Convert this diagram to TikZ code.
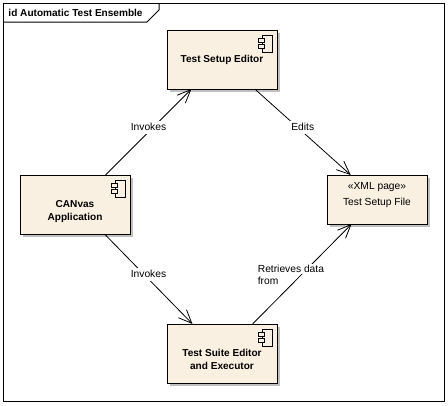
\documentclass[tikz,border=0pt]{standalone}
\usepackage{fontspec}
\setmainfont{Liberation Sans}
\usetikzlibrary{arrows.meta,shadows}
\definecolor{boxfill}{HTML}{F9F0E1}
\definecolor{boxshade}{HTML}{C0C0C0}
\setlength{\fboxsep}{1pt}
\begin{document}
\begin{tikzpicture}[x=0.75pt, y=-0.75pt, line width=0.75pt,
    every node/.style = {font=\fontsize{7.7}{9.75}\selectfont},
    heavy/.style = {font=\fontsize{7.55}{9.75}\selectfont\bfseries},
    box/.style = {draw, fill=boxfill, outer sep=0pt, inner sep=0pt, minimum width=82.5pt, align=center,
        drop shadow={shadow xshift=2.25pt, shadow yshift=-2.25pt, fill=boxshade, opacity=1}},
    comp/.style = {box, heavy, text height=24pt, text depth=20.25pt},
    comptwo/.style = {box, heavy, text height=33.75pt, text depth=10.5pt},
    page/.style = {box, minimum width=75pt, text height=22.5pt, text depth=14.25pt},
    flow/.style = {line width=0.6pt, -{Straight Barb[length=10pt, width=8.5pt]}},
    tag/.style = {fill=white, inner xsep=1pt, inner ysep=0.75pt, text height=6.2pt, text depth=2pt}]
    \useasboundingbox (0,0) rectangle (448,405);

    % Cornice con la linguetta
    \draw (3.5,3.5) rectangle (444,401);
    \draw (3.5,22) -- (147,22) -- (159,10) -- (159,3.5);
    \node[heavy, anchor=west, inner sep=0pt] (title) at (8,12.5) {id Automatic Test Ensemble};

    % Blocchi
    \node[comp] (editor) at (222,59.5) {Test Setup Editor};
    \node[comptwo] (canvas) at (75,204.5) {CANvas\\Application};
    \node[comptwo] (suite) at (222,353.5) {Test Suite Editor\\and Executor};
    \node[page] (file) at (377,199.5) {«XML page»\\[2.25pt]Test Setup File};

    \foreach \n in {editor,canvas,suite} {
        \draw ([shift={(-15,5)}]\n.north east) rectangle ++(10,17);
        \draw[fill=boxfill] ([shift={(-19,8)}]\n.north east) rectangle ++(6,4);
        \draw[fill=boxfill] ([shift={(-19,14)}]\n.north east) rectangle ++(6,4);
    }

    % Collegamenti
    \draw[flow] (canvas.44) to node[tag, yshift=3.4pt] (invup) {Invokes} (editor.224);
    \draw[flow] (canvas.-45) to node[tag, yshift=3.4pt] (invdown) {Invokes} (suite.135);
    \draw[flow] (editor.-42) to node[tag, yshift=3.4pt] (edits) {Edits} (file.137);
    \draw[flow] (suite.44) -- (file.224);
    \node[align=left, inner sep=0pt, anchor=west] (data) at (256,274) {\colorbox{white}{Retrieves data}\\[-1pt]\hspace{1pt}from};

\end{tikzpicture}
\end{document}
